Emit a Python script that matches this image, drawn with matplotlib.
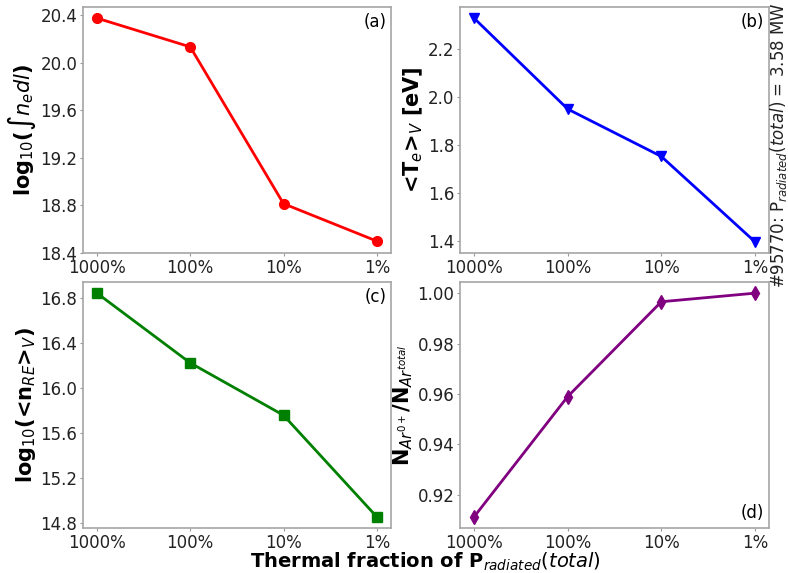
import matplotlib
matplotlib.use("Agg")
import matplotlib.pyplot as plt

# thermal fraction scan labels (x axis)
fractions = ["1000%", "100%", "10%", "1%"]
x = list(range(len(fractions)))

# panel values
log_ne_int = [20.377, 20.135, 18.815, 18.500]
te_vol = [2.327, 1.949, 1.752, 1.397]
log_nre_vol = [16.84, 16.22, 15.755, 14.852]
ar_neutral_frac = [0.9113, 0.9590, 0.9966, 1.0000]

fig = plt.figure(figsize=(7.88, 5.73), dpi=100)

# [left, bottom, width, height] in figure fraction
boxes = [
    [0.1053, 0.5585, 0.3906, 0.4293],
    [0.5838, 0.5585, 0.3921, 0.4293],
    [0.1053, 0.0785, 0.3906, 0.4294],
    [0.5838, 0.0785, 0.3921, 0.4294],
]

panels = [
    (log_ne_int, "red", "o", 7, r"log$_{10}$($\int n_e dl$)", "(a)", "top"),
    (te_vol, "blue", "v", 7, r"<T$_e$>$_V$ [eV]", "(b)", "top"),
    (log_nre_vol, "green", "s", 7, r"log$_{10}$(<n$_{RE}$>$_V$)", "(c)", "top"),
    (ar_neutral_frac, "purple", "d", 7, r"N$_{Ar^{0+}}$/N$_{Ar^{total}}$", "(d)", "bottom"),
]

for box, (vals, col, mk, ms, ylab, tag, where) in zip(boxes, panels):
    ax = fig.add_axes(box)
    ax.plot(x, vals, color=col, marker=mk, markersize=ms, linewidth=2)
    ax.set_xticks(x)
    ax.set_xticklabels(fractions)
    ax.set_ylabel(ylab, fontsize=15, fontweight="bold", labelpad=2)
    ax.tick_params(labelsize=12, length=2.5, pad=1.5, color="0.6", labelcolor="#222222")
    for s in ax.spines.values():
        s.set_color("0.65")
        s.set_linewidth(1.2)
    if where == "top":
        ax.text(0.985, 0.975, tag, transform=ax.transAxes, ha="right", va="top", fontsize=12)
    else:
        ax.text(0.985, 0.025, tag, transform=ax.transAxes, ha="right", va="bottom", fontsize=12)

# y ticks per panel
axs = fig.axes
axs[0].set_yticks([18.4, 18.8, 19.2, 19.6, 20.0, 20.4])
axs[1].set_yticks([1.4, 1.6, 1.8, 2.0, 2.2])
axs[2].set_yticks([14.8, 15.2, 15.6, 16.0, 16.4, 16.8])
axs[3].set_yticks([0.92, 0.94, 0.96, 0.98, 1.00])
axs[3].set_yticklabels(["0.92", "0.94", "0.96", "0.98", "1.00"])

fig.text(0.54, 0.0, r"Thermal fraction of P$_{radiated}(total)$", ha="center", va="bottom",
         fontsize=14, fontweight="bold")
# shot info along the right edge
fig.text(0.974, 0.996, r"#95770: P$_{radiated}(total)$ = 3.58 MW", rotation=90,
         ha="left", va="top", fontsize=12, color="#222222")

fig.savefig("out.png", dpi=100)
